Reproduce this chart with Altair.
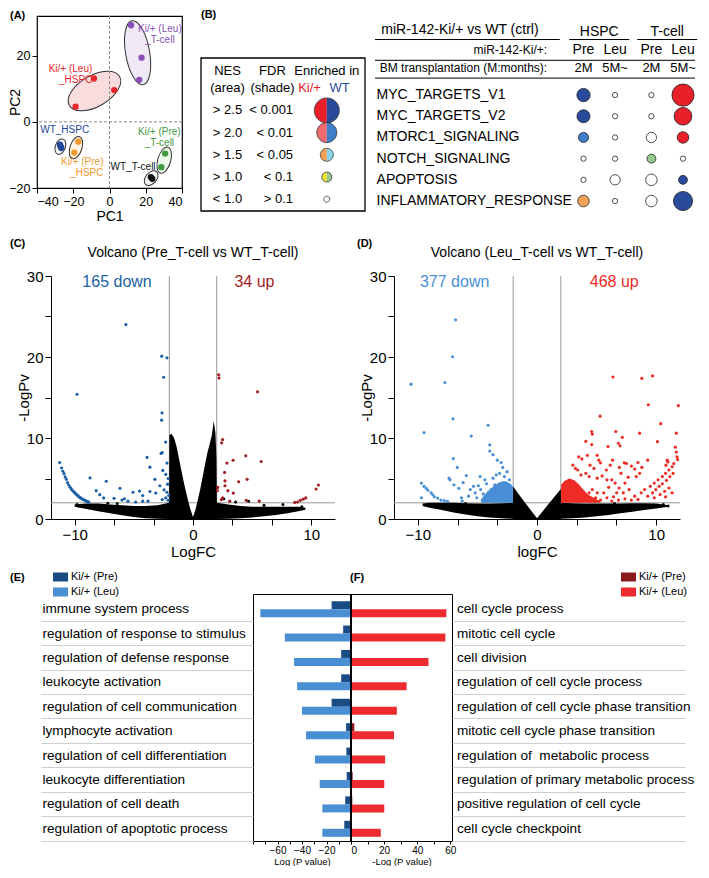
import altair as alt
import pandas as pd

FONT = "Liberation Sans"

# =================== (A) PCA ===================
pca_groups = ["Ki/+ (Leu)_T-cell", "Ki/+ (Leu)_HSPC", "WT_HSPC",
              "Ki/+ (Pre)_HSPC", "Ki/+ (Pre)_T-cell", "WT_T-cell"]
pca_point_group = (["Ki/+ (Leu)_T-cell"] * 3 + ["Ki/+ (Leu)_HSPC"] * 3 + ["WT_HSPC"] * 3
                   + ["Ki/+ (Pre)_HSPC"] * 2 + ["Ki/+ (Pre)_T-cell"] * 2 + ["WT_T-cell"] * 2)
pca_pc1 = [11.9, 17.7, 16.4, -8.6, 2.6, -18.7, -27.3, -26.6, -27.0, -17.2, -19.4, 30.7, 28.6, 22.8, 23.6]
pca_pc2 = [29.2, 19.4, 12.7, 13.1, 9.6, 4.6, -6.9, -7.9, -7.4, -6.0, -9.3, -9.6, -13.7, -16.7, -17.2]
ellipse_pc1 = [15.5, -8.3, -27.1, -18.5, 30.2, 23.0]
ellipse_pc2 = [20.9, 9.3, -7.5, -7.8, -11.6, -17.0]
pca_label_text = ["Ki/+ (Leu)\n_T-cell", "Ki/+ (Leu)\n_HSPC", "WT_HSPC",
                  "Ki/+ (Pre)\n_HSPC", "Ki/+ (Pre)\n_T-cell", "WT_T-cell"]
pca_label_pc1 = [27.8, -9.5, -38.2, -3.3, 27.5, 0.6]
pca_label_pc2 = [29.7, 17.4, -2.5, -10.7, -1.7, -13.7]

# =================== (B) GSEA ===================
gsea_sets = ["MYC_TARGETS_V1", "MYC_TARGETS_V2", "MTORC1_SIGNALING",
             "NOTCH_SIGNALING", "APOPTOSIS", "INFLAMMATORY_RESPONSE"]
gsea_cell = ["HSPC", "HSPC", "T-cell", "T-cell"]
gsea_ki = ["Pre", "Leu", "Pre", "Leu"]
gsea_bmt = ["2M", "5M~", "2M", "5M~"]
gsea_nes = [[1.62, 0.5, 0.5, 2.5],
            [1.6, 0.5, 0.5, 2.0],
            [1.2, 0.5, 1.25, 1.5],
            [0.5, 0.5, 1.0, 0.5],
            [0.5, 1.25, 1.5, 1.0],
            [1.5, 0.5, 1.5, 2.15]]
gsea_class = [["W3", "ns", "ns", "K3"],
              ["W3", "ns", "ns", "K3"],
              ["W2", "ns", "ns", "K3"],
              ["ns", "ns", "W0", "ns"],
              ["ns", "ns", "ns", "W3"],
              ["K1", "ns", "ns", "W3"]]
leg_nes_lab = ["> 2.5", "> 2.0", "> 1.5", "> 1.0", "< 1.0"]
leg_fdr_lab = ["< 0.001", "< 0.01", "< 0.05", "< 0.1", "> 0.1"]
leg_nes = [2.5, 2.0, 1.5, 1.0, 0.5]
leg_ki_class = ["K3", "K2", "K1", "K0", "ns"]
leg_wt_class = ["W3", "W2", "W1", "W0", "ns"]

# =================== (C) volcano Pre ===================
c_black_x = [-10.0, -9.0, -8.0, -7.0, -6.0, -5.0, -4.0, -3.0, -2.02, -2.0, -1.8, -1.6, -1.4, -1.2, -1.0,
             -0.8, -0.6, -0.4, -0.2, 0.0, 0.2, 0.4, 0.6, 0.8, 1.0, 1.2, 1.4, 1.6, 1.75, 1.9, 1.98,
             2.02, 3.0, 4.0, 5.0, 6.0, 7.0, 8.0, 9.0, 9.5]
c_black_hi = [1.8, 1.9, 1.9, 1.8, 1.7, 1.6, 1.6, 1.7, 2.0, 10.4, 10.5, 10.0, 9.0, 7.6, 6.1,
              4.7, 3.4, 2.2, 1.1, 0.25, 1.1, 2.3, 3.6, 5.1, 6.6, 8.1, 9.2, 10.4, 12.1, 10.6, 7.5,
              2.0, 1.8, 1.6, 1.5, 1.5, 1.5, 1.5, 1.5, 1.4]
c_black_lo = [1.5, 1.25, 0.95, 0.7, 0.45, 0.25, 0.1, 0.03, 0.0, 0.0, 0.0, 0.0, 0.0, 0.0, 0.0,
              0.0, 0.0, 0.0, 0.0, 0.0, 0.0, 0.0, 0.0, 0.0, 0.0, 0.0, 0.0, 0.0, 0.0, 0.0, 0.0,
              0.0, 0.03, 0.1, 0.2, 0.35, 0.5, 0.7, 1.0, 1.15]
c_down_x = [-5.67, -9.8, -2.64, -2.2, -2.48, -2.62, -2.65, -2.31, -2.7, -2.6, -3.88, -3.64, -2.55, -2.2,
            -2.3, -2.1, -3.22, -2.45, -2.2, -2.05, -2.3, -2.1, -2.8, -2.15, -3.15, -2.6,
            -8.7, -7.33, -8.18, -7.88, -7.55, -6.67, -6.17, -5.07, -4.52, -4.25, -3.64, -5.5, -4.85,
            -4.25, -3.8, -6.0, -5.8,
            -11.27, -11.1, -11.0, -10.9, -10.8, -10.7, -10.6, -10.5, -10.4, -10.3, -10.2, -10.1,
            -10.0, -9.9, -9.8, -9.7, -9.6, -9.5, -9.4, -9.3, -9.2, -9.1, -9.0, -8.9, -8.8]
c_down_y = [24.0, 15.4, 20.1, 19.9, 17.5, 13.1, 12.2, 9.5, 8.1, 8.2, 7.6, 6.4, 6.0, 6.9,
            5.5, 5.0, 4.9, 3.6, 3.3, 2.9, 2.6, 2.3, 4.1, 4.3, 3.2, 2.4,
            5.07, 4.66, 3.5, 3.0, 2.6, 2.55, 3.8, 3.3, 3.45, 2.9, 3.4, 2.2, 2.1,
            2.2, 2.2, 2.35, 2.5,
            6.97, 6.3, 5.9, 5.6, 5.2, 4.9, 4.5, 4.2, 3.95, 3.75, 3.55, 3.4,
            3.25, 3.1, 2.95, 2.85, 2.7, 2.6, 2.5, 2.42, 2.35, 2.28, 2.2, 2.15, 2.1]
c_up_x = [2.17, 2.2, 5.45, 2.5, 2.42, 4.46, 3.39, 5.76, 2.87, 2.67, 4.57, 3.86, 2.7, 2.7, 2.95, 3.4,
          2.1, 2.05, 2.5, 2.4, 4.5, 5.6, 3.1, 8.84, 9.07, 9.31, 9.53, 10.4, 10.6, 8.6]
c_up_y = [17.8, 17.4, 15.7, 9.8, 9.4, 7.8, 7.25, 7.1, 6.9, 5.75, 4.9, 4.6, 4.7, 4.1, 3.5, 3.2,
          3.9, 3.5, 2.6, 2.4, 2.3, 2.2, 2.2, 2.1, 2.3, 2.45, 2.6, 3.7, 4.2, 2.05]
c_other_x = [-9.8, -9.6, -6.4, 7.6, 9.2, 4.7, 2.6, 3.6, -7.2, 6.0]
c_other_y = [1.8, 1.6, 1.9, 1.8, 1.5, 2.2, 2.5, 2.1, 1.95, 1.7]

# =================== (D) volcano Leu ===================
d_black_x = [-9.6, -9.0, -8.0, -7.0, -6.0, -5.0, -4.0, -3.0, -2.02, -2.0, -1.5, -1.0, -0.5, 0.0,
             0.5, 1.0, 1.5, 2.0, 2.02, 3.0, 4.0, 5.0, 6.0, 7.0, 8.0, 9.0, 10.0, 11.0]
d_black_hi = [1.9, 2.0, 2.0, 2.0, 1.95, 1.9, 1.9, 1.95, 2.0, 4.0, 3.0, 2.0, 1.05, 0.1,
              1.0, 1.9, 2.8, 3.7, 2.0, 1.95, 1.9, 1.9, 1.9, 1.9, 1.95, 1.95, 1.9, 1.7]
d_black_lo = [1.6, 1.4, 1.1, 0.8, 0.55, 0.35, 0.2, 0.08, 0.02, 0.0, 0.0, 0.0, 0.0, 0.0,
              0.0, 0.0, 0.0, 0.0, 0.02, 0.08, 0.2, 0.35, 0.5, 0.7, 0.9, 1.1, 1.3, 1.5]
d_down_core_x = [-4.7, -4.4, -4.0, -3.6, -3.2, -2.8, -2.5, -2.2, -2.02]
d_down_core_hi = [2.4, 3.0, 3.6, 4.1, 4.5, 4.7, 4.6, 4.3, 4.0]
d_up_core_x = [2.02, 2.3, 2.7, 3.1, 3.5, 3.9, 4.3, 4.8, 5.3]
d_up_core_hi = [4.2, 4.7, 5.0, 4.8, 4.3, 3.6, 3.0, 2.6, 2.2]
d_down_x = [-6.83, -7.08, -10.57, -7.73, -7.05, -4.10, -9.48, -5.52, -3.96, -3.96, -3.69, -7.02, -3.33,
            -3.01, -6.69, -2.87, -2.51, -5.93, -7.38, -7.30, -6.97, -6.20, -6.56, -9.70, -9.48, -9.29,
            -9.15, -8.88, -8.74, -8.61, -8.33, -8.06, -9.70, -7.79, -7.51, -6.34, -6.28, -5.60, -5.33,
            -4.92, -4.73, -5.19, -4.51, -5.74, -5.05, -4.37, -4.24, -3.69, -3.42, -3.14, -2.73, -2.32,
            -2.19, -4.78, -4.10, -3.83, -3.55, -3.28, -2.46]
d_down_y = [24.59, 20.03, 16.65, 16.85, 12.37, 11.57, 10.68, 10.24, 9.15, 8.38, 7.94, 7.46, 7.26,
            6.97, 6.37, 6.37, 5.84, 5.36, 5.04, 4.84, 4.23, 4.51, 3.79, 4.43, 4.03, 3.79,
            3.55, 3.22, 2.98, 2.74, 2.58, 2.34, 2.62, 2.26, 2.18, 2.62, 2.22, 3.63, 4.03,
            4.11, 3.63, 3.22, 3.10, 2.82, 2.62, 4.84, 4.35, 5.04, 5.44, 5.64, 5.24, 4.84,
            4.03, 5.24, 3.22, 3.63, 4.23, 3.63, 3.22]
d_up_x = [6.37, 8.80, 9.70, 9.34, 11.86, 5.30, 10.38, 4.59, 4.64, 6.61, 8.61, 11.69, 7.16, 4.10, 4.59,
          10.11, 5.96, 6.83, 6.97, 11.61, 11.69, 11.75, 11.80, 3.50, 3.77, 4.23, 5.05, 5.19, 5.33,
          6.34, 7.32, 7.51, 8.47, 9.29, 10.93, 10.98, 10.82, 4.45, 4.78, 6.15, 5.82, 6.91, 7.05,
          7.92, 8.20, 8.80, 8.61, 8.33, 3.01, 3.22, 3.42, 3.69, 4.10, 4.37, 5.05, 5.46, 5.87, 6.28,
          6.56, 7.65, 7.38, 7.73, 6.89, 6.01, 6.69, 5.60, 7.24, 5.87, 6.42, 5.05, 4.92, 4.64, 4.37,
          4.10, 8.20, 8.74, 9.02, 9.51, 9.84, 10.16, 10.52, 10.79, 11.07, 11.34, 11.48, 9.29, 9.70,
          9.97, 10.25, 10.52, 10.87, 11.15, 11.42, 9.84, 10.33, 10.71, 11.07, 11.34, 10.79, 8.47,
          7.92, 7.38, 6.83, 6.28, 5.33]
d_up_y = [17.53, 17.37, 17.66, 14.11, 13.99, 12.70, 11.77, 10.80, 10.48, 10.80, 10.60, 10.60, 10.08,
          9.59, 9.19, 9.55, 8.95, 9.35, 9.03, 8.87, 8.26, 7.66, 7.34, 7.66, 7.42, 7.86, 7.86, 7.26,
          6.93, 7.26, 6.93, 6.85, 6.97, 7.26, 7.26, 7.05, 6.65, 6.65, 6.25, 6.65, 6.05, 6.37, 5.64,
          6.53, 6.17, 6.37, 5.64, 5.24, 6.65, 6.25, 6.05, 5.44, 5.64, 5.24, 5.04, 5.32, 4.84, 4.84,
          4.43, 5.16, 4.43, 3.63, 3.83, 3.91, 3.23, 3.23, 3.23, 2.62, 2.74, 3.23, 2.62, 3.63, 3.23,
          2.82, 2.82, 3.23, 3.63, 4.03, 4.43, 4.84, 5.24, 5.64, 6.05, 6.45, 6.85, 2.82, 3.23,
          3.63, 4.03, 4.35, 4.76, 5.24, 5.64, 2.62, 3.02, 3.43, 3.83, 3.23, 2.74, 2.42,
          2.34, 2.50, 2.34, 2.22, 2.34]
d_other_x = [-9.2, -8.9, 10.6, 11.0, -6.0, 6.5]
d_other_y = [1.8, 1.6, 1.8, 1.6, 1.9, 1.9]

fc_cut = [-2.0, 2.0]
p_cut = [2.0]

# =================== (E)/(F) GO bars ===================
E_terms = ["immune system process", "regulation of response to stimulus",
           "regulation of defense response", "leukocyte activation",
           "regulation of cell communication", "lymphocyte activation",
           "regulation of cell differentiation", "leukocyte differentiation",
           "regulation of cell death", "regulation of apoptotic process"]
E_pre = [-15.8, -6.4, -8.0, -8.0, -15.8, -4.0, -3.8, -3.5, -4.7, -5.5]
E_leu = [-74.0, -54.0, -46.5, -44.0, -40.0, -36.7, -29.4, -25.5, -23.4, -23.4]
F_terms = ["cell cycle process", "mitotic cell cycle", "cell division",
           "regulation of cell cycle process", "regulation of cell cycle phase transition",
           "mitotic cell cycle phase transition", "regulation of\u00a0 metabolic process",
           "regulation of primary metabolic process", "positive regulation of cell cycle",
           "cell cycle checkpoint"]
F_pre = [0.0, 0.0, 0.0, 0.0, 0.0, 2.0, 0.0, 1.0, 0.8, 0.0]
F_leu = [57.6, 57.0, 46.8, 33.6, 27.7, 26.0, 20.6, 20.1, 20.1, 18.0]
series = ["Ki/+ (Pre)", "Ki/+ (Leu)"]

# =================== styles ===================
pca_colors = ["#8b4fb9", "#e8262b", "#21479b", "#f29a2e", "#3f9a3f", "#111111"]
ellipse_style = [(65, 24, 350, "#efe8f5"), (58, 31, 60, "#f9dcdc"), (16, 10, 20, "#f4f4f4"),
                 (23, 12, 18, "#fff3e4"), (27, 13, 16, "#edf6ea"), (17, 11, 40, "#f4f4f4")]
label_style = [("center", "top"), ("right", "top"), ("left", "middle"),
               ("right", "top"), ("center", "top"), ("left", "middle")]
cls_domain = ["K3", "K2", "K1", "K0", "W3", "W2", "W1", "W0", "ns"]
cls_range = ["#e8202a", "#ee6a6f", "#f5a257", "#f1e52c", "#2a4a9b", "#3f7ec9", "#86d3ea", "#93cb8e", "#ffffff"]

LBL = -27  # panel-letter position relative to the left edge of each row


def spacer(w, h):
    return alt.Chart(pd.DataFrame({"s": [0]})).mark_point(opacity=0).encode(
        x=alt.X("s:Q", axis=None), y=alt.Y("s:Q", axis=None)).properties(width=w, height=h)


def panel_title(txt, dx, offset):
    return alt.TitleParams(txt, anchor="start", frame="group", dx=dx, offset=offset,
                           fontSize=11, fontWeight="bold", font=FONT)


# ---------------- Panel A ----------------
sxA = alt.Scale(domain=[-40, 40], nice=False, zero=False)
syA = alt.Scale(domain=[-20, 32], nice=False, zero=False)
axA_x = alt.Axis(values=[-40, -20, 0, 20, 40], title="PC1", domain=False, tickSize=5, labelFontSize=12.5,
                 titleFontSize=14, labelPadding=2, titlePadding=2)
axA_y = alt.Axis(values=[-20, 0, 20], title="PC2", domain=False, tickSize=5, labelFontSize=12.5,
                 titleFontSize=14, labelPadding=2, titlePadding=-14)


def XA(f):
    return alt.X(f, type="quantitative", scale=sxA, axis=axA_x)


def YA(f):
    return alt.Y(f, type="quantitative", scale=syA, axis=axA_y)


a_layers = []
for i in range(len(ellipse_pc1)):
    L, m, ang, fill = ellipse_style[i]
    r = m / L
    path = f"M0,-1A{r:.3f},1,0,1,1,0,1A{r:.3f},1,0,1,1,0,-1Z"
    a_layers.append(alt.Chart(pd.DataFrame({"pc1": [ellipse_pc1[i]], "pc2": [ellipse_pc2[i]]})).mark_point(
        shape=path, size=L * L, angle=ang, filled=True, fill=fill, stroke="#333333", strokeWidth=1,
        opacity=1).encode(x=XA("pc1"), y=YA("pc2")))
zero_df = pd.DataFrame({"z": [0.0]})
a_layers.append(alt.Chart(zero_df).mark_rule(color="#8a8a8a", strokeDash=[3, 2], strokeWidth=1).encode(x=XA("z")))
a_layers.append(alt.Chart(zero_df).mark_rule(color="#8a8a8a", strokeDash=[3, 2], strokeWidth=1).encode(y=YA("z")))
pca_df = pd.DataFrame({"pc1": pca_pc1, "pc2": pca_pc2, "group": pca_point_group})
a_layers.append(alt.Chart(pca_df).mark_circle(size=40, opacity=1).encode(
    x=XA("pc1"), y=YA("pc2"),
    color=alt.Color("group:N", scale=alt.Scale(domain=pca_groups, range=pca_colors), legend=None)))
for i in range(len(pca_label_text)):
    al, bl = label_style[i]
    a_layers.append(alt.Chart(pd.DataFrame({"pc1": [pca_label_pc1[i]], "pc2": [pca_label_pc2[i]],
                                            "t": [pca_label_text[i]]})).mark_text(
        align=al, baseline=bl, fontSize=10, lineBreak="\n", lineHeight=11, color=pca_colors[i]).encode(
        x=XA("pc1"), y=YA("pc2"), text="t:N"))
chartA = alt.layer(*a_layers).properties(
    width=145, height=172, title=panel_title("(A)", LBL, -5),
    view=alt.ViewBackground(stroke="black", strokeWidth=1.2))

# ---------------- Panel B legend ----------------
LEG_TOP, LEG_BOTTOM, LEG_LEFT, LEG_RIGHT = -2.36, 4.53, -0.59, 3.06
sxL = alt.Scale(domain=[LEG_LEFT, LEG_RIGHT], nice=False, zero=False)
syL = alt.Scale(domain=[-4.25, LEG_BOTTOM], nice=False, zero=False, reverse=True)


def XL(f):
    return alt.X(f, type="quantitative", scale=sxL, axis=None)


def YL(f):
    return alt.Y(f, type="quantitative", scale=syL, axis=None)


def ltext(texts, xs, ys, align="center", color="black", size=13):
    return alt.Chart(pd.DataFrame({"x": xs, "y": ys, "t": texts})).mark_text(
        align=align, baseline="middle", fontSize=size, color=color).encode(x=XL("x"), y=YL("y"), text="t:N")


rows5 = list(range(5))
frame_df = pd.DataFrame({"x": [LEG_LEFT], "x2": [LEG_RIGHT], "y": [LEG_TOP], "y2": [LEG_BOTTOM]})
leg_layers = [
    alt.Chart(frame_df).mark_rect(fill="white", fillOpacity=0, stroke="black", strokeWidth=1.3).encode(
        x=XL("x"), x2="x2:Q", y=YL("y"), y2="y2:Q"),
    ltext(["NES", "(area)"], [0, 0], [-1.77, -1.02]),
    ltext(["FDR", "(shade)"], [1.0, 1.0], [-1.77, -1.02]),
    ltext(["Enriched in"], [2.21], [-1.77]),
    ltext(["Ki/+"], [2.08], [-1.02], align="right", color="#e8202a"),
    ltext(["WT"], [2.27], [-1.02], align="left", color="#2a4a9b"),
    ltext(leg_nes_lab, [0] * 5, rows5),
    ltext(leg_fdr_lab, [1.46] * 5, rows5, align="right"),
]
size_half = alt.Scale(domain=[0.5, 1.0, 1.5, 2.0, 2.5], range=[36, 100, 169, 400, 625])
fill_scale = alt.Scale(domain=cls_domain, range=cls_range)
for cls_list, path in [(leg_ki_class, "M0,-1A1,1,0,0,0,0,1"), (leg_wt_class, "M0,-1A1,1,0,0,1,0,1")]:
    df = pd.DataFrame({"x": [2.21] * 5, "y": rows5, "nes": leg_nes, "cls": cls_list})
    leg_layers.append(alt.Chart(df).mark_point(shape=path, filled=True, stroke="#333333",
                                               strokeWidth=0.8, opacity=1).encode(
        x=XL("x"), y=YL("y"),
        size=alt.Size("nes:Q", scale=size_half, legend=None),
        fill=alt.Fill("cls:N", scale=fill_scale, legend=None)))
chartBleg = alt.layer(*leg_layers).properties(width=164, height=195, title=panel_title("(B)", 0, -4))

# ---------------- Panel B table ----------------
GAP = 0.15
col_pos = [(j // 2) * (2 + GAP) + (j % 2) for j in range(4)]
sxT = alt.Scale(domain=[-6.6, 3.53], nice=False, zero=False)
syT = alt.Scale(domain=[-3.73, 5.47], nice=False, zero=False, reverse=True)


def XT(f):
    return alt.X(f, type="quantitative", scale=sxT, axis=None)


def YT(f):
    return alt.Y(f, type="quantitative", scale=syT, axis=None)


def ttext(texts, xs, ys, align="center", size=13):
    return alt.Chart(pd.DataFrame({"x": xs, "y": ys, "t": texts})).mark_text(
        align=align, baseline="middle", fontSize=size, color="black").encode(x=XT("x"), y=YT("y"), text="t:N")


Y_TITLE, Y_UNDER, Y_KI, Y_LINE1, Y_BMT, Y_LINE2 = -3.09, -2.62, -2.11, -1.64, -1.27, -0.80
rules_df = pd.DataFrame({
    "x1": [-6.6, col_pos[0] - 0.45, col_pos[2] - 0.45, -6.6, -6.6],
    "x2": [-0.75, col_pos[1] + 0.45, col_pos[3] + 0.45, 3.53, 3.53],
    "y": [Y_UNDER, Y_UNDER, Y_UNDER, Y_LINE1, Y_LINE2]})
tab_layers = [
    alt.Chart(rules_df).mark_rule(color="black", strokeWidth=1).encode(x=XT("x1"), x2="x2:Q", y=YT("y")),
    ttext(["miR-142-Ki/+ vs WT (ctrl)"], [-6.4], [Y_TITLE], align="left", size=14),
    ttext(["HSPC", "T-cell"], [(col_pos[0] + col_pos[1]) / 2, (col_pos[2] + col_pos[3]) / 2],
          [Y_TITLE + 0.12] * 2, size=14),
    ttext(["miR-142-Ki/+:"], [-1.15], [Y_KI], align="right", size=12),
    ttext(gsea_ki, col_pos, [Y_KI] * 4, size=14),
    ttext(["BM transplantation (M:months):"], [-1.15], [Y_BMT], align="right", size=12),
    ttext(gsea_bmt, col_pos, [Y_BMT] * 4, size=13),
    ttext(gsea_sets, [-6.55] * 6, list(range(6)), align="left", size=14),
]
cells = []
for i, s in enumerate(gsea_sets):
    for j in range(4):
        cells.append({"x": col_pos[j], "y": i, "nes": gsea_nes[i][j], "cls": gsea_class[i][j]})
tab_layers.append(alt.Chart(pd.DataFrame(cells)).mark_point(
    shape="circle", filled=True, stroke="#222222", strokeWidth=0.8, opacity=1).encode(
    x=XT("x"), y=YT("y"),
    size=alt.Size("nes:Q", scale=alt.Scale(domain=[0.5, 1.0, 1.5, 2.0, 2.5, 3.0],
                                           range=[28, 79, 133, 314, 491, 616]), legend=None),
    fill=alt.Fill("cls:N", scale=fill_scale, legend=None)))
chartBtab = alt.layer(*tab_layers).properties(width=320, height=195)


# ---------------- Volcano panels ----------------
def volcano(bx, bhi, blo, dx_, dy_, ux, uy, ox, oy, cores, n_down, n_up, lab_x, title, xtitle,
            c_down, c_up, w, panel, pdx):
    sx = alt.Scale(domain=[-12, 12], nice=False, zero=False)
    sy = alt.Scale(domain=[0, 30], nice=False, zero=False)
    axx = alt.Axis(values=[-10, -6.667, -3.333, 0, 3.333, 6.667, 10],
                   labelExpr="abs(datum.value) % 10 < 0.01 ? datum.label : ''",
                   title=xtitle, tickSize=6, labelFontSize=15, titleFontSize=15, labelPadding=2,
                   titlePadding=2, domainWidth=1)
    axy = alt.Axis(values=[0, 5, 10, 15, 20, 25, 30],
                   labelExpr="datum.value % 10 == 0 ? datum.label : ''",
                   title="-LogPv", tickSize=6, labelFontSize=15, titleFontSize=15, labelPadding=2,
                   titlePadding=-4.7, domainWidth=1)

    def X(f):
        return alt.X(f, type="quantitative", scale=sx, axis=axx)

    def Y(f):
        return alt.Y(f, type="quantitative", scale=sy, axis=axy)

    layers = []
    layers.append(alt.Chart(pd.DataFrame({"x": fc_cut})).mark_rule(color="#999999", strokeWidth=1).encode(x=X("x")))
    layers.append(alt.Chart(pd.DataFrame({"y": p_cut})).mark_rule(color="#999999", strokeWidth=1).encode(y=Y("y")))
    layers.append(alt.Chart(pd.DataFrame({"x": bx, "hi": bhi, "lo": blo})).mark_area(
        color="black", opacity=1).encode(x=X("x"), y=Y("hi"), y2="lo:Q"))
    for cx, chi, col in cores:
        layers.append(alt.Chart(pd.DataFrame({"x": cx, "hi": chi, "lo": [p_cut[0]] * len(cx)})).mark_area(
            color=col, opacity=1).encode(x=X("x"), y=Y("hi"), y2="lo:Q"))
    layers.append(alt.Chart(pd.DataFrame({"x": ox, "y": oy})).mark_circle(size=9, color="black", opacity=1).encode(
        x=X("x"), y=Y("y")))
    layers.append(alt.Chart(pd.DataFrame({"x": dx_, "y": dy_})).mark_circle(size=10, color=c_down, opacity=1).encode(
        x=X("x"), y=Y("y")))
    layers.append(alt.Chart(pd.DataFrame({"x": ux, "y": uy})).mark_circle(size=10, color=c_up, opacity=1).encode(
        x=X("x"), y=Y("y")))
    layers.append(alt.Chart(pd.DataFrame({"x": [lab_x[0]], "y": [29.3], "t": [f"{n_down} down"]})).mark_text(
        fontSize=16, color=c_down).encode(x=X("x"), y=Y("y"), text="t:N"))
    layers.append(alt.Chart(pd.DataFrame({"x": [lab_x[1]], "y": [29.3], "t": [f"{n_up} up"]})).mark_text(
        fontSize=16, color=c_up).encode(x=X("x"), y=Y("y"), text="t:N"))
    layers.append(alt.Chart(pd.DataFrame({"x": [0.0], "y": [32.9], "t": [title]})).mark_text(
        fontSize=14, color="black").encode(x=X("x"), y=Y("y"), text="t:N"))
    return alt.layer(*layers).properties(width=w, height=243, title=panel_title(panel, pdx, -3))


SP_C = 14
chartC = volcano(c_black_x, c_black_hi, c_black_lo, c_down_x, c_down_y, c_up_x, c_up_y,
                 c_other_x, c_other_y, [], 165, 34, [-6.42, 5.19],
                 "Volcano (Pre_T-cell vs WT_T-cell)", "LogFC", "#1b5fa6", "#a11d23", 284, "(C)", LBL - SP_C)
chartD = volcano(d_black_x, d_black_hi, d_black_lo, d_down_x, d_down_y, d_up_x, d_up_y,
                 d_other_x, d_other_y,
                 [(d_down_core_x, d_down_core_hi, "#4a8fd6"), (d_up_core_x, d_up_core_hi, "#ee2b24")],
                 377, 468, [-6.91, 6.48],
                 "Volcano (Leu_T-cell vs WT_T-cell)", "logFC", "#4a8fd6", "#ee2b24", 286, "(D)", -37)


# ---------------- GO bars ----------------
def gobar(terms, pre, leu, colors, xdom, xvals, xlabs, xtitle, orient, tsize, lpad, legx, panel, pdx, w,
          zero_rule):
    df = pd.DataFrame({"term": terms * 2, "series": [series[0]] * 10 + [series[1]] * 10,
                       "value": list(pre) + list(leu)})
    sx = alt.Scale(domain=xdom, nice=False, zero=True)
    axx = alt.Axis(values=xvals, labelExpr="indexof(" + str(xlabs) + ", datum.value) >= 0 ? datum.label : ''",
                   title=xtitle, tickSize=3, domain=False, labelFontSize=10, titleFontSize=9.5,
                   labelPadding=1, titlePadding=1)
    axy = alt.Axis(orient=orient, title=None, domain=False, bandPosition=1, tickExtra=False,
                   tickSize=tsize, tickColor="#cfcfcf", tickWidth=1, labelAlign="left",
                   labelPadding=lpad, labelFontSize=13.6, labelLimit=0, labelColor="black")
    X = alt.X("value:Q", scale=sx, axis=axx)
    bars = alt.Chart(df).mark_bar(opacity=1).encode(
        y=alt.Y("term:N", sort=terms, axis=axy,
                scale=alt.Scale(paddingInner=0, paddingOuter=0.06, align=1)),
        yOffset=alt.YOffset("series:N", sort=series, scale=alt.Scale(paddingInner=0, paddingOuter=0.525)),
        x=X,
        color=alt.Color("series:N", sort=series, scale=alt.Scale(domain=series, range=colors),
                        legend=alt.Legend(orient="none", legendX=legx, legendY=-24.5, title=None,
                                          symbolType="M-1,-0.6H1V0.6H-1Z", symbolSize=225,
                                          symbolStrokeWidth=0, labelFontSize=11, rowPadding=2,
                                          labelOffset=3, labelFont=FONT)))
    layers = [bars]
    if zero_rule:
        layers.append(alt.Chart(pd.DataFrame({"value": [0.0]})).mark_rule(color="black", strokeWidth=2).encode(x=X))
    return alt.layer(*layers).properties(width=w, height=247, title=panel_title(panel, pdx, -13),
                                         view=alt.ViewBackground(stroke="black", strokeWidth=1))


SP_E = 216
chartE = gobar(E_terms, E_pre, E_leu, ["#1a4c84", "#4a8fd4"], [-80, 0],
               [-80, -70, -60, -50, -40, -30, -20, -10, 0], [-60, -40, -20], "Log (P value)",
               "left", 212, -1, -200, "(E)", LBL - SP_E, 98, False)
chartF = gobar(F_terms, F_pre, F_leu, ["#8b1a1d", "#ee2b2f"], [0, 61],
               [0, 10, 20, 30, 40, 50, 60], [0, 20, 40, 60], "-Log (P value)",
               "right", 233, -228.5, 270, "(F)", -1, 101, True)

# ---------------- layout ----------------
row1 = alt.hconcat(chartA, spacer(19, 221), chartBleg, spacer(10, 1), chartBtab, spacing=0, bounds="flush")
row2 = alt.hconcat(spacer(SP_C, 292.5), chartC, spacer(59, 1), chartD, spacing=0, bounds="flush")
row3 = alt.hconcat(spacer(SP_E, 1), chartE, chartF, spacing=0, bounds="flush")


def indep(c):
    return c.resolve_scale(color="independent", fill="independent", size="independent",
                           shape="independent", stroke="independent").resolve_legend(
        color="independent", fill="independent", size="independent")


chart = indep(alt.vconcat(indep(row1), indep(row2), indep(row3), spacing=0)).properties(padding=0)

chart = chart.configure(font=FONT).configure_view(stroke=None).configure_axis(
    grid=False, labelFont=FONT, titleFont=FONT, titleFontWeight="normal", labelColor="black",
    titleColor="black", domainColor="black", tickColor="black").configure_text(font=FONT).configure_title(
    font=FONT, color="black")

chart.save("out.html", embed_options={"renderer": "svg", "actions": False})
